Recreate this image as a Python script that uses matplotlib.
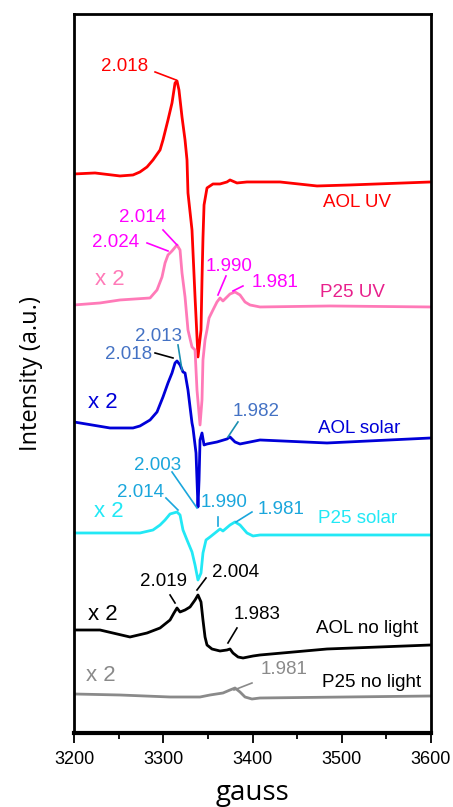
import matplotlib
matplotlib.use('Agg')
import matplotlib.pyplot as plt
from matplotlib.ticker import MultipleLocator

plt.rcParams['font.family'] = ['Liberation Sans', 'DejaVu Sans']

# EPR spectra (field in gauss, stacked intensity in a.u.)
g_aol_uv = [3200, 3223.5, 3251.5, 3266.1, 3273.9, 3281.8, 3288.5, 3296.4, 3299.7, 3305.3,
            3309.8, 3313.2, 3315.4, 3317.6, 3321.0, 3324.4, 3326.6, 3327.7, 3332.2, 3335.6,
            3338.9, 3342.3, 3343.4, 3344.5, 3345.7, 3349.0, 3355.7, 3363.6, 3371.4, 3374.8,
            3382.6, 3393.8, 3430.8, 3472.3, 3509.2, 3600]
i_aol_uv = [559, 560, 557, 558, 561, 566, 573, 583, 593, 613,
            630, 650, 652, 643, 616, 593, 573, 540, 503, 436,
            376, 403, 453, 495, 528, 545, 549, 549, 551, 553,
            550, 551, 551, 547, 548, 551]

g_p25_uv = [3200, 3229.1, 3251.5, 3285.2, 3293.0, 3298.6, 3302.0, 3305.3, 3309.8, 3315.4,
            3318.8, 3321.0, 3324.4, 3327.7, 3332.2, 3335.6, 3337.8, 3341.2, 3343.4, 3344.5,
            3346.8, 3349.0, 3351.3, 3355.7, 3360.2, 3363.6, 3366.9, 3374.8, 3380.4, 3386.0,
            3391.6, 3397.2, 3408.4, 3486.8, 3600]
i_p25_uv = [428, 430, 433, 435, 443, 456, 470, 478, 482, 488,
            483, 460, 436, 403, 386, 383, 343, 308, 333, 373,
            393, 403, 415, 423, 431, 435, 432, 439, 441, 438,
            431, 428, 426, 427, 426]

g_aol_solar = [3200, 3240.3, 3266.1, 3273.9, 3285.2, 3293.0, 3299.7, 3305.3, 3309.8, 3313.2,
               3315.4, 3318.8, 3322.1, 3324.4, 3327.7, 3330.0, 3332.2, 3333.3, 3336.7, 3338.9,
               3340.1, 3341.2, 3343.4, 3345.7, 3349.0, 3360.2, 3371.4, 3374.8, 3380.4, 3386.0,
               3397.2, 3408.4, 3483.5, 3600]
i_aol_solar = [311, 305, 305, 307, 313, 321, 336, 350, 360, 370,
               372, 368, 361, 360, 343, 326, 310, 305, 280, 226,
               253, 293, 300, 288, 289, 291, 294, 296, 291, 289,
               291, 293, 290, 295]

g_p25_solar = [3200, 3273.9, 3288.5, 3296.4, 3302.0, 3307.6, 3315.4, 3318.8, 3322.1, 3326.6,
               3332.2, 3335.6, 3338.9, 3342.3, 3344.5, 3347.9, 3352.4, 3358.0, 3363.6, 3366.9,
               3374.8, 3380.4, 3386.0, 3393.8, 3400.6, 3408.4, 3600]
i_p25_solar = [200, 200, 203, 208, 213, 219, 221, 218, 203, 193,
               181, 168, 153, 160, 180, 193, 196, 200, 204, 202,
               208, 211, 208, 200, 197, 198, 198]

g_aol_dark = [3200, 3229.1, 3262.7, 3281.8, 3296.4, 3307.6, 3312.0, 3315.4, 3318.8, 3324.4,
              3330.0, 3335.6, 3338.9, 3342.3, 3344.5, 3346.8, 3349.0, 3354.6, 3363.6, 3371.4,
              3374.8, 3378.1, 3383.8, 3389.4, 3400.6, 3408.4, 3483.5, 3600]
i_aol_dark = [103, 103, 96, 100, 105, 113, 120, 125, 121, 123,
              126, 133, 138, 131, 113, 96, 88, 84, 82, 83,
              84, 80, 76, 75, 77, 78, 84, 88]

g_p25_dark = [3200, 3251.5, 3307.6, 3341.2, 3352.4, 3366.9, 3374.8, 3380.4, 3386.0, 3391.6,
              3399.4, 3408.4, 3600]
i_p25_dark = [39, 38, 36, 36, 38, 40, 43, 45, 41, 36,
              34, 35, 37]

# 颜色
c_red = '#ff0000'
c_pink = '#ff7ab8'
c_mag = '#ff00ff'
c_blue = '#0000d8'
c_lblue = '#4472c4'
c_cyan = '#22e8f5'
c_cyan_t = '#1aa6dc'
c_gray = '#8a8a8a'

fig = plt.figure(figsize=(4.53, 8.07), dpi=100)
ax = fig.add_axes([0.1634, 0.0917, 0.7880, 0.8910])

kw = dict(lw=2, solid_joinstyle='round')
ax.plot(g_aol_uv, i_aol_uv, color=c_red, **kw)
ax.plot(g_p25_uv, i_p25_uv, color=c_pink, **kw)
ax.plot(g_aol_solar, i_aol_solar, color=c_blue, **kw)
ax.plot(g_p25_solar, i_p25_solar, color=c_cyan, **kw)
ax.plot(g_aol_dark, i_aol_dark, color='black', **kw)
ax.plot(g_p25_dark, i_p25_dark, color=c_gray, **kw)

fs = 13.5
# peak labels: text, text pos, line start, line end, text colour, line colour
peaks = [
    ('2.018', (3257, 666), (3290.8, 661), (3314.3, 653), c_red, c_red),
    ('2.014', (3277, 515), (3299.7, 503), (3315.4, 488), c_mag, c_mag),
    ('2.024', (3247, 490), (3281.8, 490), (3305.3, 482), c_mag, c_mag),
    ('1.990', (3373.7, 466), (3370.3, 457), (3361.3, 438), c_mag, c_mag),
    ('1.981', (3425, 450), (3389.3, 447), (3378.1, 442), c_mag, c_mag),
    ('2.013', (3295, 396), (3316.5, 388), (3321, 363), c_lblue, '#1a8fb0'),
    ('2.018', (3261.6, 378), (3290.8, 380), (3310.9, 375), c_lblue, 'black'),
    ('1.982', (3404, 321), (3383.7, 311), (3372.5, 296), c_lblue, '#1a8fb0'),
    ('2.003', (3294, 267), (3309.8, 261), (3337.8, 225), c_cyan_t, c_cyan_t),
    ('2.014', (3275, 240), (3303, 235), (3316.5, 223), c_cyan_t, c_cyan_t),
    ('1.990', (3368, 230), (3361.3, 216), (3361.3, 207), c_cyan_t, c_cyan_t),
    ('1.981', (3432, 223), (3399.4, 221), (3381.5, 211), c_cyan_t, c_cyan_t),
    ('2.019', (3300, 151), (3307.6, 138), (3313.2, 130), 'black', 'black'),
    ('2.004', (3381.5, 160), (3347.9, 155), (3337.8, 143), 'black', 'black'),
    ('1.983', (3405, 118), (3382.6, 105), (3372.5, 90), 'black', 'black'),
    ('1.981', (3435, 63), (3399.4, 50), (3379.3, 43), c_gray, c_gray),
]
for txt, tpos, p0, p1, tc, lc in peaks:
    ax.text(tpos[0], tpos[1], txt, color=tc, fontsize=fs, ha='center', va='center')
    ax.plot([p0[0], p1[0]], [p0[1], p1[1]], color=lc, lw=1.2)

# sample names
names = [
    ('AOL UV', (3517, 530), c_red),
    ('P25 UV', (3511.5, 440), '#e8208c'),
    ('AOL solar', (3520, 304), c_blue),
    ('P25 solar', (3518, 214), c_cyan),
    ('AOL no light', (3528, 104), 'black'),
    ('P25 no light', (3533, 50), 'black'),
]
for txt, pos, c in names:
    ax.text(pos[0], pos[1], txt, color=c, fontsize=fs, ha='center', va='center')

# scale factors
scales = [
    ('x 2', (3240, 453), c_pink),
    ('x 2', (3232.5, 330), c_blue),
    ('x 2', (3239, 221), c_cyan),
    ('x 2', (3232.5, 118), 'black'),
    ('x 2', (3230, 57), c_gray),
]
for txt, pos, c in scales:
    ax.text(pos[0], pos[1], txt, color=c, fontsize=16, ha='center', va='center')

ax.set_xlim(3200, 3600)
ax.set_ylim(0, 719)
ax.set_yticks([])
ax.xaxis.set_major_locator(MultipleLocator(100))
ax.xaxis.set_minor_locator(MultipleLocator(50))
ax.tick_params(axis='x', which='major', direction='out', length=7, width=1.3, labelsize=13, pad=6)
ax.tick_params(axis='x', which='minor', direction='out', length=4, width=1.3)
for s in ['left', 'right', 'top']:
    ax.spines[s].set_linewidth(2)
ax.spines['bottom'].set_linewidth(3)

ax.set_xlabel('gauss', fontsize=20, family='Open Sans', labelpad=8)
ax.set_ylabel('Intensity (a.u.)', fontsize=17, family='Open Sans', labelpad=22)

plt.savefig('out.png', dpi=100)
